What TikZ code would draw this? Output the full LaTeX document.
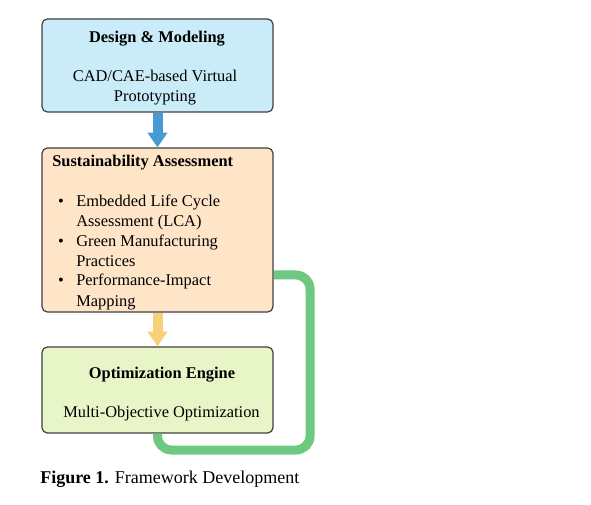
\documentclass[tikz,border=0pt]{standalone}
\usepackage{fontspec}
\setmainfont{Liberation Serif}
\usetikzlibrary{arrows.meta}
\definecolor{boxline}{RGB}{64,64,64}
\definecolor{designfill}{RGB}{202,236,249}
\definecolor{assessfill}{RGB}{255,229,199}
\definecolor{optimfill}{RGB}{232,245,199}
\definecolor{flowblue}{RGB}{72,153,212}
\definecolor{flowyellow}{RGB}{249,208,122}
\definecolor{loopgreen}{RGB}{110,200,128}
\tikzstyle{stage} = [draw=boxline, line width=0.9pt, rounded corners=4pt, minimum width=173.25pt, inner sep=0pt]
\tikzstyle{headtext} = [inner sep=0pt, anchor=base, font=\fontsize{12.3}{14.8}\selectfont\bfseries]
\tikzstyle{bodytext} = [inner sep=0pt, anchor=base, font=\fontsize{12.3}{14.8}\selectfont]
\tikzstyle{flowarrow} = [line width=7.5pt, -{Triangle[width=14.25pt,length=11pt]}]
\tikzstyle{feedback} = [draw=loopgreen, line width=6.75pt, rounded corners=10.5pt]

\begin{document}
\begin{tikzpicture}[x=0.75pt, y=-0.75pt]
        \fill[white] (0,0) rectangle (591,505);
        \useasboundingbox (0,0) rectangle (591,505);
        % the three stages
        \node (design) [stage, fill=designfill, minimum height=69.75pt] at (157.5,65.5) {};
        \node (assess) [stage, fill=assessfill, minimum height=123pt] at (157.5,230) {};
        \node (optim) [stage, fill=optimfill, minimum height=64.5pt] at (157.5,390) {};
        % texts
        \node (designhead) [headtext] at (157,43) {Design \& Modeling};
        \node (designline1) [bodytext] at (155,82) {CAD/CAE-based Virtual};
        \node (designline2) [bodytext] at (155,102) {Prototypting};
        \node (assesshead) [headtext, anchor=base west] at (52,167) {Sustainability Assessment};
        \foreach \yy [count=\i] in {207,247,286}
            \node (dot\i) [bodytext] at (61,\yy) {\textbullet};
        \foreach \txt/\yy [count=\i] in {Embedded Life Cycle/207, Assessment (LCA)/227,
            Green Manufacturing/247, Practices/267, Performance-Impact/286, Mapping/306}
            \node (item\i) [bodytext, anchor=base west] at (76,\yy) {\txt};
        \node (optimhead) [headtext] at (162,378) {Optimization Engine};
        \node (optimline) [bodytext] at (161.5,417) {Multi-Objective Optimization};
        \node (caption) [bodytext, anchor=base west, font=\fontsize{13.5}{16}\selectfont] at (40,483) {\textbf{Figure 1.} Framework Development};
        % connectors
        \draw[flowarrow, draw=flowblue] (design.south) -- (assess.north);
        \draw[flowarrow, draw=flowyellow] (assess.south) -- (optim.north);
        \coordinate (loopturn) at (310,450);
        \coordinate (loopend) at (274,275);
        \draw[feedback] (optim.south) |- (loopturn) |- (loopend);
    \end{tikzpicture}
\end{document}
